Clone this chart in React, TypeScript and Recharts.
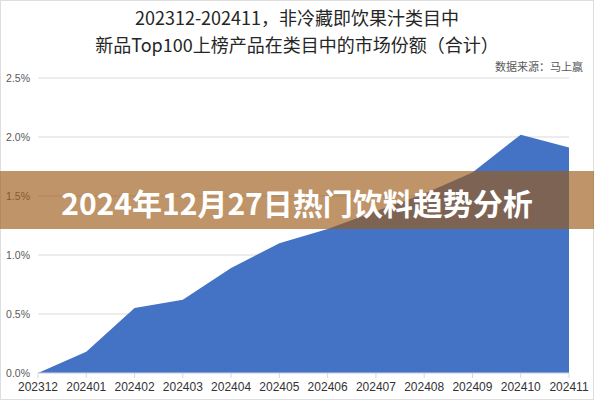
import { AreaChart, Area, XAxis, YAxis, CartesianGrid } from "recharts";

const months = [
  "202312", "202401", "202402", "202403", "202404", "202405",
  "202406", "202407", "202408", "202409", "202410", "202411",
];
const share = [0, 0.18, 0.55, 0.62, 0.89, 1.1, 1.22, 1.37, 1.52, 1.7, 2.02, 1.91];
const yTicks = [0, 0.5, 1, 1.5, 2, 2.5];

const titleLines = [
  "202312-202411，非冷藏即饮果汁类目中",
  "新品Top100上榜产品在类目中的市场份额（合计）",
];
const sourceNote = "数据来源：马上赢";
const banner = "2024年12月27日热门饮料趋势分析";

const data = months.map((m, i) => ({ month: m, share: share[i] }));

const CJK = '"Noto Sans CJK SC", "Noto Sans", sans-serif';
const TICK = '"Liberation Sans", Arial, sans-serif';

export default function App() {
  return (
    <div
      style={{
        position: "absolute",
        left: 0,
        top: 0,
        width: 594,
        height: 400,
        background: "#fff",
        fontFamily: CJK,
        overflow: "hidden",
      }}
    >
      <div
        style={{
          position: "absolute",
          left: 0,
          top: 0,
          width: 592,
          height: 398,
          border: "1px solid #dedede",
        }}
      />
      <div
        style={{
          position: "absolute",
          left: 0,
          top: 4,
          width: 594,
          textAlign: "center",
          fontSize: 18,
          lineHeight: "27px",
          color: "#262626",
        }}
      >
        {titleLines.map((t) => (
          <div key={t}>{t}</div>
        ))}
      </div>
      <div
        style={{
          position: "absolute",
          right: 11,
          top: 58,
          fontSize: 11,
          color: "#595959",
        }}
      >
        {sourceNote}
      </div>
      <div style={{ position: "absolute", left: 0, top: 0 }}>
        <AreaChart
          width={594}
          height={400}
          data={data}
          margin={{ top: 78, right: 25, bottom: 0, left: 8 }}
        >
          <CartesianGrid vertical={false} stroke="#d9d9d9" />
          <XAxis
            dataKey="month"
            height={27}
            axisLine={{ stroke: "#d0d7e5" }}
            tickLine={{ stroke: "#d0d7e5" }}
            tickSize={5}
            tickMargin={4}
            interval={0}
            tick={{ fontSize: 12, fill: "#333", fontFamily: TICK }}
          />
          <YAxis
            width={30}
            domain={[0, 2.5]}
            ticks={yTicks}
            axisLine={false}
            tickLine={false}
            tickFormatter={(v: number) => v.toFixed(1) + "%"}
            tick={{ fontSize: 10.5, fill: "#595959", fontFamily: TICK }}
          />
          <Area
            type="linear"
            dataKey="share"
            fill="#4472C4"
            fillOpacity={1}
            stroke="none"
            isAnimationActive={false}
          />
        </AreaChart>
      </div>
      <div
        style={{
          position: "absolute",
          left: 0,
          top: 171,
          width: 594,
          height: 58,
          background: "rgba(155, 90, 23, 0.65)",
          display: "flex",
          alignItems: "center",
          justifyContent: "center",
          color: "#fff",
          fontSize: 30,
          fontWeight: 700,
          paddingTop: 4,
          boxSizing: "border-box",
        }}
      >
        {banner}
      </div>
    </div>
  );
}
